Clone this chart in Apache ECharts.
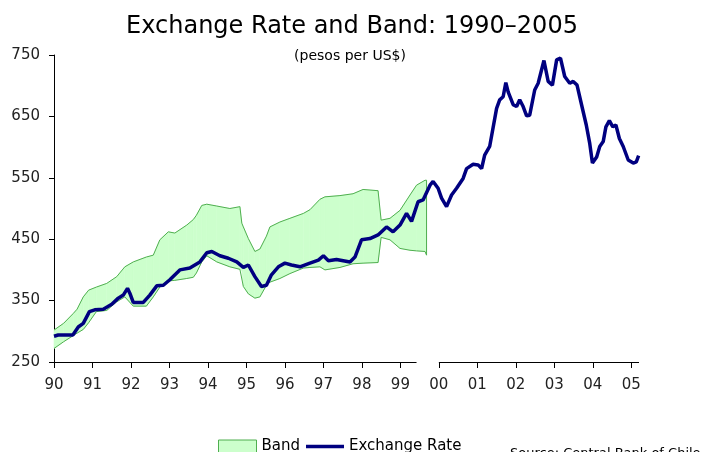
<!DOCTYPE html>
<html>
<head>
<meta charset="utf-8">
<script src="https://cdn.jsdelivr.net/npm/echarts@6/dist/echarts.min.js"></script>
<style>
  html, body { margin: 0; padding: 0; background: #fff; }
  #chart { width: 704px; height: 452px; }
</style>
</head>
<body>
<div id="chart"></div>
<script>
// exchange rate, pesos per US$ (decimal year, value)
var rateYears = [1990.00, 1990.11, 1990.49, 1990.63, 1990.76, 1990.92, 1991.06, 1991.28, 1991.50, 1991.67,
  1991.80, 1991.91, 1991.97, 1992.06, 1992.32, 1992.49, 1992.67, 1992.84, 1993.01, 1993.27,
  1993.53, 1993.79, 1993.97, 1994.10, 1994.31, 1994.53, 1994.75, 1994.92, 1995.05, 1995.22,
  1995.39, 1995.52, 1995.65, 1995.83, 1996.00, 1996.17, 1996.39, 1996.65, 1996.87, 1997.00,
  1997.13, 1997.34, 1997.69, 1997.82, 1997.99, 1998.21, 1998.42, 1998.64, 1998.81, 1998.99,
  1999.16, 1999.29, 1999.46, 1999.59, 1999.77, 1999.85, 1999.98, 2000.07, 2000.20, 2000.33,
  2000.46, 2000.63, 2000.72, 2000.89, 2001.02, 2001.11, 2001.19, 2001.32, 2001.50, 2001.58,
  2001.67, 2001.74, 2001.80, 2001.93, 2002.02, 2002.10, 2002.19, 2002.28, 2002.36, 2002.49,
  2002.58, 2002.73, 2002.84, 2002.95, 2003.06, 2003.16, 2003.27, 2003.40, 2003.49, 2003.59,
  2003.70, 2003.83, 2003.92, 2003.99, 2004.10, 2004.18, 2004.27, 2004.34, 2004.43, 2004.52,
  2004.60, 2004.69, 2004.79, 2004.92, 2005.05, 2005.13, 2005.19];
var rateValues = [292, 294, 294, 307, 313, 332, 335, 336, 344, 354,
  359, 370, 362, 347, 347, 359, 374, 375, 384, 400,
  403, 413, 428, 430, 423, 419, 413, 404, 408, 389,
  373, 375, 392, 405, 411, 408, 405, 411, 416, 423,
  415, 417, 413, 421, 449, 451, 457, 470, 462, 473,
  492, 479, 511, 514, 538, 544, 533, 517, 503, 522,
  533, 549, 565, 572, 571, 565, 587, 601, 663, 677,
  682, 705, 690, 669, 666, 677, 666, 651, 652, 693,
  704, 741, 707, 701, 742, 745, 715, 704, 707, 701,
  671, 636, 606, 574, 584, 601, 609, 633, 643, 633,
  636, 614, 601, 579, 574, 576, 586];

// exchange rate band (upper / lower limits)
var bandYears = [1990.00, 1990.25, 1990.50, 1990.60, 1990.76, 1990.90, 1991.10, 1991.37, 1991.63, 1991.84,
  1992.06, 1992.40, 1992.58, 1992.75, 1992.97, 1993.14, 1993.45, 1993.62, 1993.70, 1993.84,
  1993.97, 1994.23, 1994.57, 1994.83, 1994.88, 1994.92, 1995.05, 1995.22, 1995.35, 1995.52,
  1995.61, 1995.87, 1996.13, 1996.48, 1996.65, 1996.91, 1997.04, 1997.43, 1997.77, 1998.03,
  1998.42, 1998.50, 1998.73, 1998.99, 1999.25, 1999.42, 1999.64, 1999.68];
var bandUpper = [302, 313, 329, 336, 356, 367, 372, 378, 389, 405,
  413, 421, 424, 449, 462, 460, 473, 482, 489, 505,
  507, 504, 500, 503, 476, 470, 451, 430, 434, 455,
  470, 478, 484, 492, 498, 515, 519, 521, 524, 531,
  529, 481, 484, 497, 522, 538, 546, 546];
var bandLower = [272, 283, 293, 297, 303, 314, 332, 334, 348, 356,
  341, 341, 356, 372, 382, 383, 386, 388, 395, 413,
  423, 413, 405, 401, 399, 373, 361, 354, 356, 375,
  380, 386, 394, 403, 404, 405, 400, 404, 410, 411,
  412, 453, 449, 435, 432, 431, 430, 424];

var yearTicks = [1990, 1991, 1992, 1993, 1994, 1995, 1996, 1997, 1998, 1999, 2000, 2001, 2002, 2003, 2004, 2005];
var xMin = 1990, xMax = 2005.2;
var axisGapStart = 1999.42, axisGapEnd = 2000;

var font = "'DejaVu Sans', Verdana, sans-serif";
var bandEdge = "#4fae4f";
var bandFill = "#ccffcc";
var rateColor = "#000080";

var rateData = rateYears.map(function (y, i) { return [y, rateValues[i]]; });
var upperData = bandYears.map(function (y, i) { return [y, bandUpper[i]]; });
var lowerData = bandYears.map(function (y, i) { return [y, bandLower[i]]; });
var bandData = bandYears.map(function (y, i) { return [y, bandUpper[i], bandLower[i]]; });

// fill between upper and lower: one quad per segment
function renderBand(params, api) {
  var i = params.dataIndex;
  if (i >= bandYears.length - 1) {
    // closing vertical edge at the end of the band
    var a = api.coord([bandYears[i], bandUpper[i]]);
    var b = api.coord([bandYears[i], bandLower[i]]);
    return {
      type: "line",
      shape: { x1: a[0], y1: a[1], x2: b[0], y2: b[1] },
      style: { stroke: bandEdge, lineWidth: 1 }
    };
  }
  var p1 = api.coord([bandYears[i], bandUpper[i]]);
  var p2 = api.coord([bandYears[i + 1], bandUpper[i + 1]]);
  var p3 = api.coord([bandYears[i + 1], bandLower[i + 1]]);
  var p4 = api.coord([bandYears[i], bandLower[i]]);
  return {
    type: "polygon",
    shape: { points: [p1, p2, p3, p4] },
    style: { fill: bandFill, stroke: bandFill, lineWidth: 0.6 }
  };
}

var chart = echarts.init(document.getElementById("chart"));
chart.setOption({
  animation: false,
  title: [
    {
      text: "Exchange Rate and Band: 1990–2005",
      left: "center",
      top: 10,
      textStyle: { fontFamily: font, fontSize: 24, fontWeight: "normal", color: "#000" }
    },
    {
      text: "(pesos per US$)",
      left: 345,
      textAlign: "center",
      top: 44,
      textStyle: { fontFamily: font, fontSize: 14, fontWeight: "normal", color: "#000" }
    }
  ],
  legend: {
    left: 213,
    top: 434,
    itemWidth: 38,
    itemHeight: 13,
    itemGap: 6,
    textStyle: { fontFamily: font, fontSize: 15, color: "#000" },
    data: [
      { name: "Band", icon: "rect", itemStyle: { color: bandFill, borderColor: bandEdge, borderWidth: 1 } },
      { name: "Exchange Rate", icon: "path://M0,0L38,0L38,3.5L0,3.5Z", itemStyle: { color: rateColor } }
    ]
  },
  graphic: [{
    type: "text",
    left: 510,
    top: 447,
    style: { text: "Source: Central Bank of Chile", fontFamily: font, fontSize: 13, fill: "#000" }
  }],
  grid: { left: 54, right: 65, top: 55, bottom: 90 },
  xAxis: {
    type: "value",
    min: xMin,
    max: xMax,
    axisLine: { show: false },
    splitLine: { show: false },
    axisTick: { show: true, length: 6, customValues: yearTicks, lineStyle: { color: "#000" } },
    axisLabel: {
      customValues: yearTicks,
      margin: 16,
      fontFamily: font,
      fontSize: 15,
      color: "#222",
      formatter: function (v) { return String(Math.round(v) % 100).padStart(2, "0"); }
    }
  },
  yAxis: {
    type: "value",
    min: 250,
    max: 750,
    interval: 100,
    splitLine: { show: false },
    axisLine: { show: true, lineStyle: { color: "#000" } },
    axisTick: { show: true, length: 5, lineStyle: { color: "#000" } },
    axisLabel: { margin: 14, fontFamily: font, fontSize: 15, color: "#222" }
  },
  series: [
    {
      name: "Band",
      type: "custom",
      renderItem: renderBand,
      data: bandData,
      encode: { x: 0, y: [1, 2] },
      itemStyle: { color: bandFill },
      silent: true
    },
    {
      name: "Band upper",
      type: "line",
      data: upperData,
      symbol: "none",
      lineStyle: { color: bandEdge, width: 1 },
      silent: true
    },
    {
      name: "Band lower",
      type: "line",
      data: lowerData,
      symbol: "none",
      lineStyle: { color: bandEdge, width: 1 },
      silent: true
    },
    {
      name: "Exchange Rate",
      type: "line",
      data: rateData,
      symbol: "none",
      lineStyle: { color: rateColor, width: 3.5 },
      itemStyle: { color: rateColor },
      markLine: {
        silent: true,
        symbol: "none",
        label: { show: false },
        lineStyle: { color: "#000", width: 1, type: "solid" },
        data: [
          [{ coord: [xMin, 250] }, { coord: [axisGapStart, 250] }],
          [{ coord: [axisGapEnd, 250] }, { coord: [xMax, 250] }]
        ]
      }
    }
  ]
});
</script>
</body>
</html>
